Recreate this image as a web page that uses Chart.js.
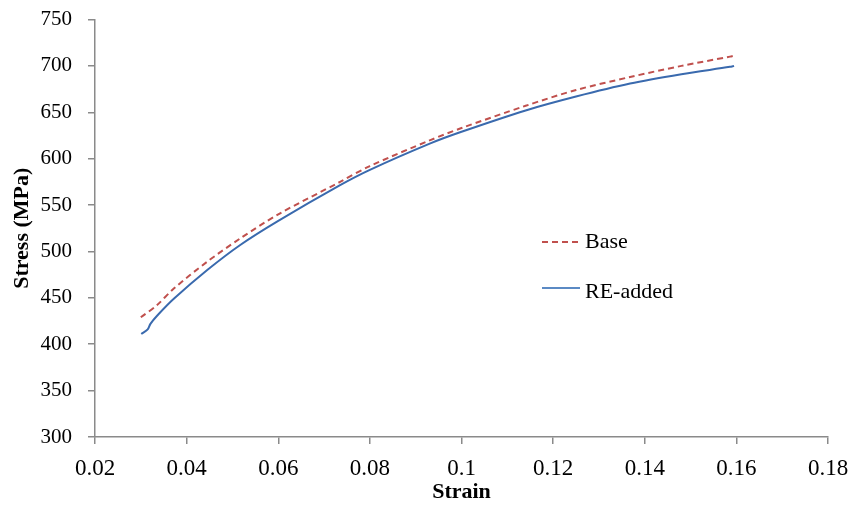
<!DOCTYPE html>
<html lang="en">
<head>
  <meta charset="UTF-8" />
  <title>Stress vs Strain</title>
  <script src="https://cdn.jsdelivr.net/npm/chart.js"></script>
  <style>
    html, body { margin: 0; padding: 0; background: #fff; }
    #wrap { width: 853px; height: 512px; position: relative; }
  </style>
</head>
<body>
  <div id="wrap"><canvas id="stressChart"></canvas></div>
  <script>
    // values
    const baseStrain = [0.0300, 0.0335, 0.0372, 0.0445, 0.0517, 0.0600, 0.0735, 0.0800, 0.0932, 0.1000, 0.1140, 0.1250, 0.1368, 0.1480, 0.1586, 0.1595];
    const baseStress = [429, 442, 460, 489, 514, 540, 575, 592, 620, 633, 657, 674, 688, 700, 710, 711];

    const reStrain = [0.0301, 0.0315, 0.0321, 0.0336, 0.0372, 0.0445, 0.0517, 0.0600, 0.0735, 0.0800, 0.0932, 0.1000, 0.1140, 0.1250, 0.1368, 0.1480, 0.1586, 0.1595];
    const reStress = [411, 416, 422, 431, 449, 480, 507, 533, 571.5, 588, 616.5, 629, 652, 667, 681, 691, 699, 700];

    const seriesNames = ['Base', 'RE-added'];
    const xTicks = [0.02, 0.04, 0.06, 0.08, 0.1, 0.12, 0.14, 0.16, 0.18];
    const yTicks = [300, 350, 400, 450, 500, 550, 600, 650, 700, 750];

    const serif = "'Liberation Serif', 'Times New Roman', serif";
    const axisGrey = '#8a8a8a';

    const toPoints = (xs, ys) => xs.map((x, i) => ({ x: x, y: ys[i] }));

    // legend drawn inside the plot, like the original
    const innerLegend = {
      id: 'innerLegend',
      afterDraw(chart, args, opts) {
        const ctx = chart.ctx;
        ctx.save();
        chart.data.datasets.forEach((ds, i) => {
          const y = opts.rows[i];
          ctx.strokeStyle = ds.legendColor || ds.borderColor;
          ctx.lineWidth = 2;
          ctx.setLineDash(ds.borderDash || []);
          ctx.beginPath();
          ctx.moveTo(opts.x, y);
          ctx.lineTo(opts.x + 38, y);
          ctx.stroke();
          ctx.setLineDash([]);
          ctx.fillStyle = '#000';
          ctx.font = '22px ' + serif;
          ctx.textBaseline = 'middle';
          ctx.fillText(ds.label, opts.x + 43, opts.textRows[i]);
        });
        ctx.restore();
      }
    };

    new Chart(document.getElementById('stressChart'), {
      type: 'scatter',
      data: {
        datasets: [
          {
            label: seriesNames[0],
            data: toPoints(baseStrain, baseStress),
            showLine: true,
            borderColor: '#c0504d',
            legendColor: '#c0504d',
            borderWidth: 2,
            borderDash: [6, 4],
            pointRadius: 0,
            tension: 0.3,
            fill: false
          },
          {
            label: seriesNames[1],
            data: toPoints(reStrain, reStress),
            showLine: true,
            borderColor: '#3a6aae',
            legendColor: '#5b8ac4',
            borderWidth: 2,
            pointRadius: 0,
            tension: 0.3,
            fill: false
          }
        ]
      },
      options: {
        responsive: true,
        maintainAspectRatio: false,
        animation: false,
        layout: { padding: { top: 19.5, right: 25, left: 0, bottom: 0 } },
        plugins: {
          legend: { display: false },
          tooltip: { enabled: false },
          innerLegend: { x: 542, rows: [242, 288], textRows: [242, 292] }
        },
        scales: {
          x: {
            type: 'linear',
            min: xTicks[0],
            max: xTicks[xTicks.length - 1],
            afterBuildTicks: s => { s.ticks = xTicks.map(v => ({ value: v })); },
            afterFit: s => { s.height = 75; s.paddingLeft = 0; s.paddingRight = 0; },
            ticks: {
              color: '#000',
              padding: 11,
              font: { family: serif, size: 23 },
              callback: v => String(+v.toFixed(2))
            },
            grid: { drawOnChartArea: false, drawTicks: true, tickLength: 7, color: axisGrey, lineWidth: 1.5 },
            border: { color: axisGrey, width: 1.5 },
            title: {
              display: true,
              text: 'Strain',
              color: '#000',
              padding: { top: 0, bottom: 6 },
              font: { family: serif, size: 22, weight: 'bold' }
            }
          },
          y: {
            min: yTicks[0],
            max: yTicks[yTicks.length - 1],
            afterBuildTicks: s => { s.ticks = yTicks.map(v => ({ value: v })); },
            afterFit: s => { s.width = 95; s.paddingTop = 0; s.paddingBottom = 0; },
            ticks: {
              color: '#000',
              padding: 16,
              font: { family: serif, size: 21 }
            },
            grid: { drawOnChartArea: false, drawTicks: true, tickLength: 7, color: axisGrey, lineWidth: 1.5 },
            border: { color: axisGrey, width: 1.5 },
            title: {
              display: true,
              text: 'Stress (MPa)',
              color: '#000',
              padding: { top: 9, bottom: 0 },
              font: { family: serif, size: 22, weight: 'bold' }
            }
          }
        }
      },
      plugins: [innerLegend]
    });
  </script>
</body>
</html>
